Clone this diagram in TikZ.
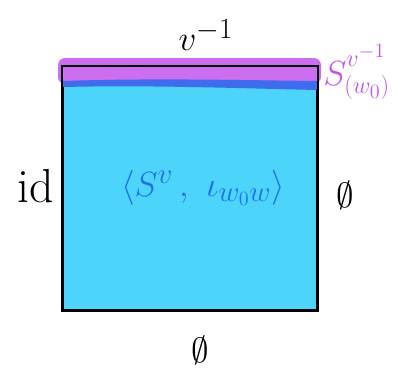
\documentclass[tikz,border=0pt]{standalone}
\usepackage{xcolor}
\usepackage{tikz}
\usetikzlibrary{positioning}

\definecolor{cellcyan}{RGB}{77,212,250}
\definecolor{bandpurple}{RGB}{204,110,240}
\definecolor{stripblue}{RGB}{62,108,236}
\definecolor{genblue}{RGB}{30,112,230}
\definecolor{labpurple}{RGB}{196,84,232}

\begin{document}
\begin{tikzpicture}[
    x=0.25mm, y=-0.25mm,
    cell/.style={draw=black, line width=1.3pt, fill=cellcyan, minimum width=63.5mm, minimum height=60.75mm, inner sep=0pt},
    lbl/.style={font=\fontsize{30}{34}\selectfont, inner sep=0pt},
    gen/.style={font=\fontsize{28}{32}\selectfont, text=genblue, inner sep=0pt},
]
    \useasboundingbox (0,0) rectangle (393,373);
    % the square
    \node[cell] (sq) at (190,188.5) {};
    % purple band and dark strip along the top
    \fill[bandpurple, rounded corners=5pt] (58,58) rectangle (321,84);
    \fill[stripblue] (63,81) .. controls (150,78) and (230,80) .. (317,81)
        -- (317,90) .. controls (230,88) and (150,85) .. (63,87) -- cycle;
    \draw[line width=1.3pt] (sq.north west) rectangle (sq.south east);
    % labels
    \node[gen] (span) at (203,188) {$\langle S^{v}\,,\ \iota_{w_0 w}\rangle$};
    \node[lbl] (top) at (206,35) {$v^{-1}$};
    \node[lbl, font=\fontsize{27}{30}\selectfont, text=labpurple, anchor=west] (band) at (323,72) {$S^{v^{-1}\rule[-5pt]{0pt}{5pt}}_{(w_0)}$};
    \node[lbl, font=\fontsize{34}{38}\selectfont] (left) at (36,186) {id};
    \node[lbl] (right) at (345,195) {$\emptyset$};
    \node[lbl] (bottom) at (200,350) {$\emptyset$};
\end{tikzpicture}
\end{document}
